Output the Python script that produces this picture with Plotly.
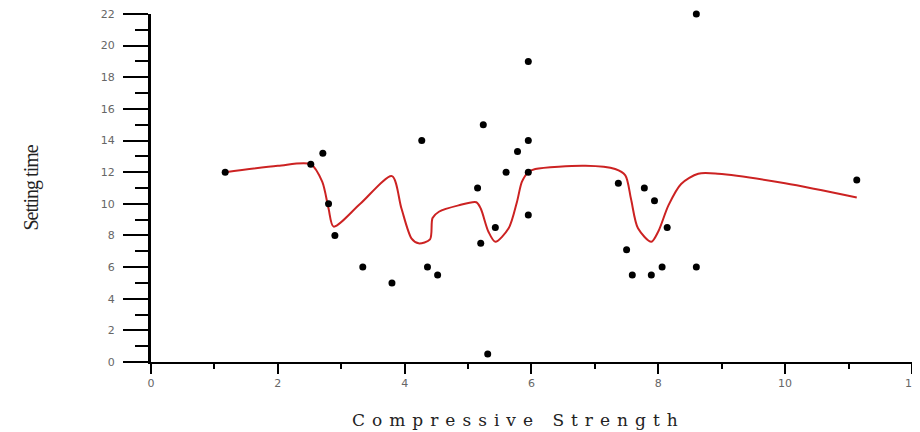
import plotly.graph_objects as go

# Scatter data (Compressive Strength vs Setting time)
strength = [1.17, 2.52, 2.71, 2.8, 2.9, 3.34, 3.8, 4.27, 4.36, 4.52,
            5.15, 5.2, 5.24, 5.31, 5.43, 5.6, 5.78, 5.95, 5.95, 5.95, 5.95,
            7.37, 7.5, 7.59, 7.78, 7.89, 7.94, 8.06, 8.14, 8.6, 8.6, 11.13]
setting_time = [12.0, 12.5, 13.2, 10.0, 8.0, 6.0, 5.0, 14.0, 6.0, 5.5,
                11.0, 7.5, 15.0, 0.5, 8.5, 12.0, 13.3, 19.0, 14.0, 12.0, 9.3,
                11.3, 7.1, 5.5, 11.0, 5.5, 10.2, 6.0, 8.5, 22.0, 6.0, 11.5]

# Smoothed fit curve
fit_x = [1.17, 2.0, 2.52, 2.7, 2.8, 2.88, 3.3, 3.8, 3.95, 4.11, 4.22, 4.4,
         4.44, 4.54, 4.85, 5.13, 5.2, 5.32, 5.43, 5.64, 5.77, 5.85, 5.95,
         6.06, 6.85, 7.32, 7.48, 7.57, 7.68, 7.89, 8.0, 8.16, 8.36, 8.63,
         8.94, 10.0, 11.13]
fit_y = [12.0, 12.4, 12.5, 11.4, 9.7, 8.56, 10.0, 11.75, 9.7, 7.8, 7.5, 7.75,
         9.1, 9.5, 9.9, 10.1, 9.7, 8.25, 7.6, 8.45, 10.1, 11.4, 12.0,
         12.2, 12.4, 12.2, 11.8, 10.3, 8.45, 7.6, 8.25, 9.9, 11.25, 11.9,
         11.9, 11.3, 10.4]

x_ticks = [0, 2, 4, 6, 8, 10, 12]
y_ticks = list(range(0, 23, 2))

x_title = "Compressive Strength"
y_title = "Setting time"

fig = go.Figure()
fig.add_trace(go.Scatter(x=fit_x, y=fit_y, mode="lines",
                         line=dict(color="#cc2222", width=2, shape="spline", smoothing=0.8),
                         showlegend=False, cliponaxis=False))
fig.add_trace(go.Scatter(x=strength, y=setting_time, mode="markers",
                         marker=dict(color="black", size=7, symbol="circle"),
                         showlegend=False, cliponaxis=False))

tickfont = dict(family="DejaVu Sans", size=11, color="#666666")
# page body has an 8px default margin, so the figure is sized 912x424
fig.update_layout(
    width=912, height=424,
    margin=dict(l=143, r=8, t=6, b=70),
    paper_bgcolor="white", plot_bgcolor="white",
    xaxis=dict(range=[0, 12.001], tickvals=x_ticks, ticktext=[str(v) for v in x_ticks],
               automargin=False, ticklabeloverflow="allow",
               showgrid=False, zeroline=False,
               showline=True, linecolor="black", linewidth=2,
               ticks="outside", ticklen=10, tickwidth=2, tickcolor="black",
               minor=dict(dtick=1, ticks="outside", ticklen=5, tickwidth=2, tickcolor="black"),
               tickfont=tickfont),
    yaxis=dict(range=[0, 22], tickvals=y_ticks, ticktext=[str(v) for v in y_ticks],
               automargin=False, ticklabeloverflow="allow",
               showgrid=False, zeroline=False,
               showline=True, linecolor="black", linewidth=3,
               ticks="outside", ticklen=25, tickwidth=2, tickcolor="black",
               minor=dict(dtick=1, ticks="outside", ticklen=13, tickwidth=2, tickcolor="black"),
               tickfont=tickfont, ticklabelstandoff=6,
               title=dict(text='<span style="letter-spacing:-1px">' + y_title + '</span>',
                          font=dict(family="Liberation Serif", size=20, color="#222222"),
                          standoff=57)),
    annotations=[dict(
        text='<span style="letter-spacing:7px">' + x_title + '</span>',
        xref="paper", yref="paper", x=0.483, y=-0.166,
        xanchor="center", yanchor="middle", showarrow=False,
        font=dict(family="DejaVu Serif", size=17, color="#222222"))],
)

fig.write_html("out.html")
